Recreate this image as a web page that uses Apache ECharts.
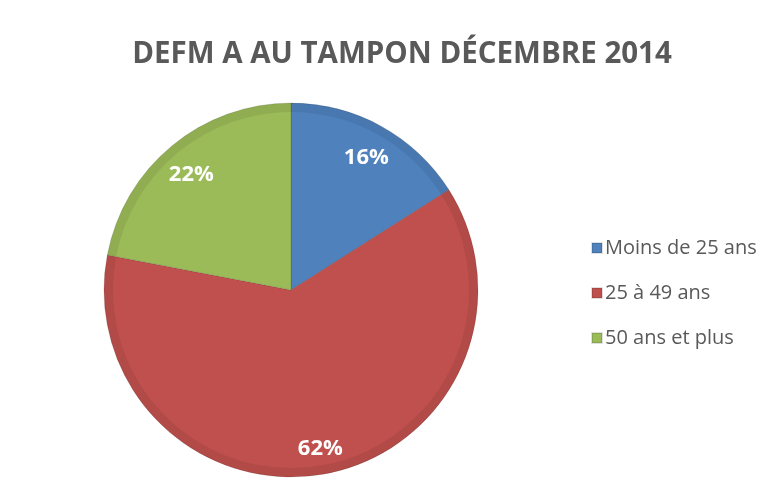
<!DOCTYPE html>
<html>
<head>
<meta charset="utf-8">
<script src="https://cdn.jsdelivr.net/npm/echarts@6/dist/echarts.min.js"></script>
<style>
  html, body { margin: 0; padding: 0; background: #fff; }
  #main { width: 781px; height: 497px; }
</style>
</head>
<body>
<div id="main"></div>
<script>
// données
var categories = ['Moins de 25 ans', '25 à 49 ans', '50 ans et plus'];
var values = [16, 62, 22];
var colors = ['#4F81BD', '#C0504D', '#9BBB59'];

var myChart = echarts.init(document.getElementById('main'));

var pieData = categories.map(function (name, i) {
    return { name: name, value: values[i], itemStyle: { color: colors[i] } };
});

var font = '"Open Sans", sans-serif';
var R = 187;

option = {
    backgroundColor: '#fff',
    animation: false,
    title: {
        text: 'DEFM A AU TAMPON DÉCEMBRE 2014',
        left: 397,
        top: 35,
        textAlign: 'center',
        textStyle: {
            color: '#595959',
            fontFamily: font,
            fontWeight: 'bold',
            fontSize: 29.5
        }
    },
    legend: {
        orient: 'vertical',
        left: 586,
        top: 233,
        icon: 'rect',
        itemWidth: 10,
        itemHeight: 10,
        itemGap: 25,
        data: categories,
        textStyle: { color: '#595959', fontFamily: font, fontSize: 20, padding: [0, 0, 0, -2] }
    },
    series: [
        {
            type: 'pie',
            center: [291, 290],
            radius: [0, R],
            startAngle: 90,
            clockwise: true,
            label: { show: false },
            labelLine: { show: false },
            itemStyle: { borderColor: 'rgba(0,0,0,0.12)', borderWidth: 1 },
            data: pieData
        },
        {
            // léger biseau sur le bord
            type: 'pie',
            center: [291, 290],
            radius: [R - 9, R],
            startAngle: 90,
            silent: true,
            label: { show: false },
            labelLine: { show: false },
            itemStyle: { color: 'rgba(0,0,0,0.07)' },
            legendHoverLink: false,
            data: categories.map(function (name, i) { return { name: name + ' ', value: values[i] }; })
        },
        {
            // couche invisible pour placer les étiquettes
            type: 'pie',
            center: [291, 290],
            radius: [R * 0.64, R],
            startAngle: 90,
            silent: true,
            itemStyle: { color: 'rgba(0,0,0,0)' },
            label: {
                show: true,
                position: 'inside',
                formatter: '{c}%',
                color: '#fff',
                fontFamily: font,
                fontWeight: 'bold',
                fontSize: 22,
                offset: [0, 5]
            },
            labelLine: { show: false },
            data: categories.map(function (name, i) { return { name: name + '  ', value: values[i] }; })
        }
    ]
};

myChart.setOption(option);
</script>
</body>
</html>
